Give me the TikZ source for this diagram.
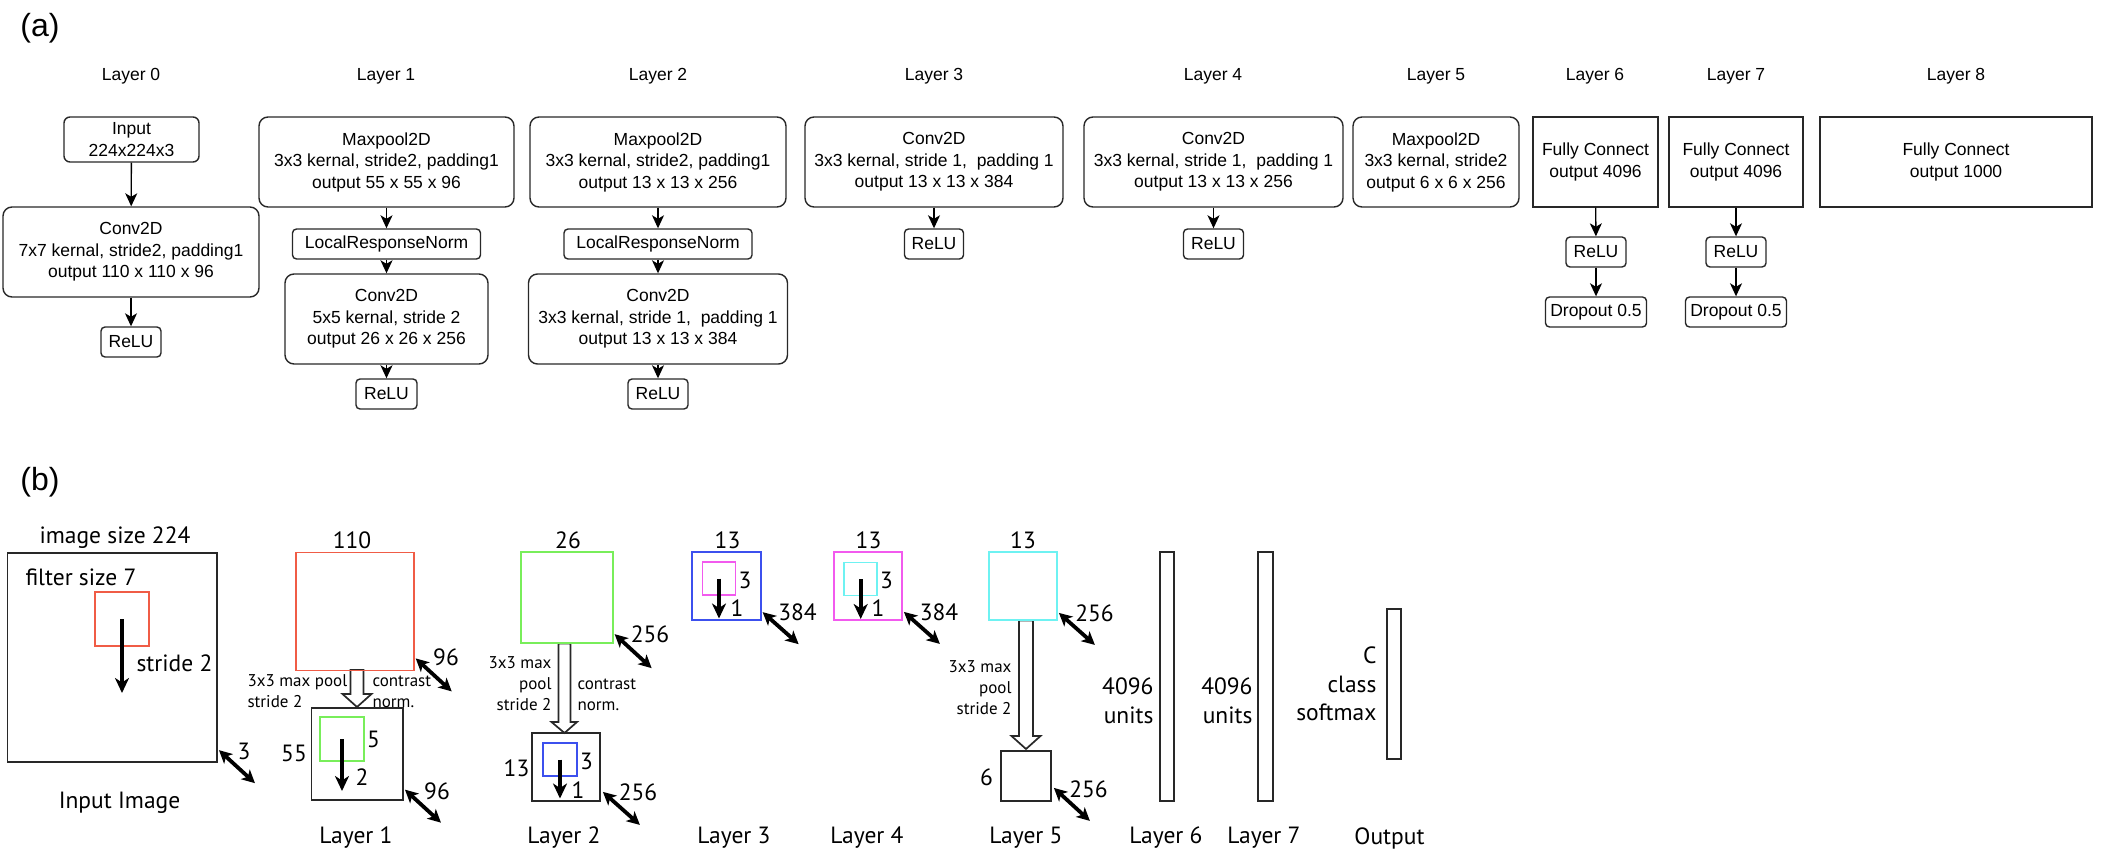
\documentclass[tikz,border=0pt]{standalone}
\usepackage{fontspec}
\setmainfont{Liberation Sans}
\newfontfamily\myriad{PT Sans}
\usetikzlibrary{arrows.meta}

\definecolor{mapred}{RGB}{240,92,70}
\definecolor{mapgreen}{RGB}{120,238,90}
\definecolor{mapblue}{RGB}{60,80,238}
\definecolor{mapmag}{RGB}{242,90,238}
\definecolor{mapcyan}{RGB}{110,242,242}
\definecolor{edge}{RGB}{40,40,40}

\tikzset{
  atext/.style={font=\fontsize{17.5}{21.5}\selectfont},
  btext/.style={font=\myriad\fontsize{23.5}{28.5}\selectfont},
  bsmall/.style={font=\myriad\fontsize{17}{21}\selectfont},
  bigbox/.style={atext, draw=edge, line width=1.4, rounded corners=9, minimum height=90, inner sep=0, align=center},
  fcbox/.style={atext, draw=edge, line width=1.4, minimum height=90, inner sep=0, align=center},
  tinybox/.style={atext, draw=edge, line width=1.4, rounded corners=4, minimum height=30, inner sep=0},
  flow/.style={-{Stealth[length=13,width=12,inset=3.5]}, line width=1.3},
  sq/.style={draw, line width=1.8, inner sep=0, minimum size=#1},
  bar/.style={draw=edge, line width=1.8, inner sep=0},
  thk/.style={-{Stealth[length=15,width=14,inset=4.5]}, line width=4},
  dbl/.style={{Stealth[length=13,width=13,inset=3.5]}-{Stealth[length=13,width=13,inset=3.5]}, line width=3.8},
  blk/.style={draw=edge, fill=white, line width=1.7, line join=miter}
}

\begin{document}
\begin{tikzpicture}[x=1pt, y=-1pt]
  \useasboundingbox (0,0) rectangle (2102,858);

  % (a) layer table
  \node[font=\fontsize{32}{36}\selectfont] (taga) at (40,28) {(a)};

  \node[atext] (lab0) at (131,76) {Layer 0};
  \node[atext] (lab1) at (386,76) {Layer 1};
  \node[atext] (lab2) at (658,76) {Layer 2};
  \node[atext] (lab3) at (934,76) {Layer 3};
  \node[atext] (lab4) at (1213,76) {Layer 4};
  \node[atext] (lab5) at (1436,76) {Layer 5};
  \node[atext] (lab6) at (1595,76) {Layer 6};
  \node[atext] (lab7) at (1736,76) {Layer 7};
  \node[atext] (lab8) at (1956,76) {Layer 8};

  \node[bigbox, minimum width=135, minimum height=45, rounded corners=6] (in0) at (131.5,139.5) {Input\\224x224x3};
  \node[bigbox, minimum width=256] (conv0) at (131,252) {Conv2D\\7x7 kernal, stride2, padding1\\output 110 x 110 x 96};
  \node[tinybox, minimum width=60] (relu0) at (131,342) {ReLU};
  \draw[flow] (in0) -- (conv0);
  \draw[flow] (conv0) -- (relu0);

  \node[bigbox, minimum width=255] (pool1) at (386.5,162) {Maxpool2D\\3x3 kernal, stride2, padding1\\output 55 x 55 x 96};
  \node[tinybox, minimum width=188] (lrn1) at (386.5,244) {LocalResponseNorm};
  \node[bigbox, minimum width=203] (conv1) at (386.5,319) {Conv2D\\5x5 kernal, stride 2\\output 26 x 26 x 256};
  \node[tinybox, minimum width=61] (relu1) at (386.5,394) {ReLU};
  \draw[flow] (pool1) -- (lrn1);
  \draw[flow] (lrn1) -- (conv1);
  \draw[flow] (conv1) -- (relu1);

  \node[bigbox, minimum width=256] (pool2) at (658,162) {Maxpool2D\\3x3 kernal, stride2, padding1\\output 13 x 13 x 256};
  \node[tinybox, minimum width=188] (lrn2) at (658,244) {LocalResponseNorm};
  \node[bigbox, minimum width=259] (conv2) at (658,319) {Conv2D\\3x3 kernal, stride 1,\ \ padding 1\\output 13 x 13 x 384};
  \node[tinybox, minimum width=60] (relu2) at (658,394) {ReLU};
  \draw[flow] (pool2) -- (lrn2);
  \draw[flow] (lrn2) -- (conv2);
  \draw[flow] (conv2) -- (relu2);

  \node[bigbox, minimum width=258] (conv3) at (934,162) {Conv2D\\3x3 kernal, stride 1,\ \ padding 1\\output 13 x 13 x 384};
  \node[tinybox, minimum width=59] (relu3) at (934,244) {ReLU};
  \draw[flow] (conv3) -- (relu3);

  \node[bigbox, minimum width=259] (conv4) at (1213.5,162) {Conv2D\\3x3 kernal, stride 1,\ \ padding 1\\output 13 x 13 x 256};
  \node[tinybox, minimum width=60] (relu4) at (1213.5,244) {ReLU};
  \draw[flow] (conv4) -- (relu4);

  \node[bigbox, minimum width=166] (pool5) at (1436,162) {Maxpool2D\\3x3 kernal, stride2\\output 6 x 6 x 256};

  \node[fcbox, minimum width=125] (fc6) at (1595.5,162) {Fully Connect\\output 4096};
  \node[tinybox, minimum width=60] (relu6) at (1596,252) {ReLU};
  \node[tinybox, minimum width=101] (drop6) at (1596,312) {Dropout 0.5};
  \draw[flow] (fc6) -- (relu6);
  \draw[flow] (relu6) -- (drop6);

  \node[fcbox, minimum width=134] (fc7) at (1736,162) {Fully Connect\\output 4096};
  \node[tinybox, minimum width=60] (relu7) at (1736,252) {ReLU};
  \node[tinybox, minimum width=101] (drop7) at (1736,312) {Dropout 0.5};
  \draw[flow] (fc7) -- (relu7);
  \draw[flow] (relu7) -- (drop7);

  \node[fcbox, minimum width=272] (fc8) at (1956,162) {Fully Connect\\output 1000};

  % (b) feature maps
  \node[font=\fontsize{32}{36}\selectfont] (tagb) at (40,482) {(b)};

  % input image
  \node[sq=209.5, draw=edge] (img) at (112.3,657.5) {};
  \node[sq=54, draw=mapred] (f0) at (122,619) {};
  \draw[thk] (f0.center) -- ++(0,74);
  \draw[dbl] ([shift={(1,-13)}]img.south east) -- ++(36,33);
  \node[btext] at (115,538) {image size 224};
  \node[btext, anchor=west] at (22,577) {filter size 7};
  \node[btext, anchor=west] at (133,663) {stride 2};
  \node[btext] at (244,751) {3};
  \node[btext] at (119.5,803) {Input Image};

  % layer 1
  \draw[blk] (357,670) -- ++(-6.5,0) -- ++(0,24) -- ++(-8,0) -- (357,707) -- ++(14.5,-13) -- ++(-8,0) -- ++(0,-24) -- cycle;
  \node[sq=118, draw=mapred] (m1) at (354.8,611.5) {};
  \node[sq=91.5, draw=edge] (p1) at (357.3,754) {};
  \node[sq=44, draw=mapgreen] (f1) at (342,739) {};
  \draw[thk] (f1.center) -- ++(0,52);
  \draw[dbl] ([shift={(1,-13)}]m1.south east) -- ++(36,33);
  \draw[dbl] ([shift={(1,-11)}]p1.south east) -- ++(36,33);
  \node[btext] at (352,540) {110};
  \node[bsmall, anchor=west, align=left] at (244,691.5) {3x3 max pool\\stride 2};
  \node[bsmall, anchor=west, align=left] at (369,691.5) {contrast\\norm.};
  \node[btext] at (446,657) {96};
  \node[btext] at (294,753) {55};
  \node[btext] at (373.5,739) {5};
  \node[btext] at (362,777) {2};
  \node[btext] at (437,791) {96};
  \node[btext] at (356,838) {Layer 1};

  % layer 2
  \draw[blk] (564.5,643.5) -- ++(-6,0) -- ++(0,78.5) -- ++(-7,0) -- (564.5,733) -- ++(12.5,-11) -- ++(-6.5,0) -- ++(0,-78.5) -- cycle;
  \node[sq=91.5, draw=mapgreen] (m2) at (567,597.5) {};
  \node[sq=68, draw=edge] (p2) at (566,767) {};
  \node[sq=33.5, draw=mapblue] (f2) at (560,759.5) {};
  \draw[thk] (f2.center) -- ++(0,39);
  \draw[dbl] ([shift={(1,-10)}]m2.south east) -- ++(37,34);
  \draw[dbl] ([shift={(2,-10)}]p2.south east) -- ++(37,33);
  \node[btext] at (568,540) {26};
  \node[bsmall, anchor=east, align=right] at (555,683.5) {3x3 max\\pool\\stride 2};
  \node[bsmall, anchor=west, align=left] at (574,694.5) {contrast\\norm.};
  \node[btext] at (650,634) {256};
  \node[btext] at (516.5,768) {13};
  \node[btext] at (586.5,761) {3};
  \node[btext] at (578,790) {1};
  \node[btext] at (638,792) {256};
  \node[btext] at (564,838) {Layer 2};

  % layer 3
  \node[sq=68.5, draw=mapblue] (m3) at (726.5,586) {};
  \node[sq=33, draw=mapmag] (f3) at (719,578.5) {};
  \draw[thk] (f3.center) -- ++(0,40);
  \draw[dbl] ([shift={(1,-9)}]m3.south east) -- ++(36,32);
  \node[btext] at (727.5,540) {13};
  \node[btext] at (745,580) {3};
  \node[btext] at (737,608) {1};
  \node[btext] at (797.5,612) {384};
  \node[btext] at (734,838) {Layer 3};

  % layer 4
  \node[sq=68, draw=mapmag] (m4) at (868,586) {};
  \node[sq=33, draw=mapcyan] (f4) at (860.7,579) {};
  \draw[thk] (f4.center) -- ++(0,40);
  \draw[dbl] ([shift={(1,-9)}]m4.south east) -- ++(36,32);
  \node[btext] at (868.5,540) {13};
  \node[btext] at (886.5,580) {3};
  \node[btext] at (878,608) {1};
  \node[btext] at (939,612) {384};
  \node[btext] at (867,838) {Layer 4};

  % layer 5
  \draw[blk] (1026,620.5) -- ++(-7,0) -- ++(0,115.5) -- ++(-7.5,0) -- (1026,749) -- ++(14.5,-13) -- ++(-7.5,0) -- ++(0,-115.5) -- cycle;
  \node[sq=68, draw=mapcyan] (m5) at (1023,586) {};
  \node[sq=50, draw=edge] (p5) at (1026,776) {};
  \draw[dbl] ([shift={(1,-8)}]m5.south east) -- ++(36,32);
  \draw[dbl] ([shift={(2,-14)}]p5.south east) -- ++(36,33);
  \node[btext] at (1023,540) {13};
  \node[bsmall, anchor=east, align=right] at (1015,688) {3x3 max\\pool\\stride 2};
  \node[btext] at (986.5,777) {6};
  \node[btext] at (1094.5,613) {256};
  \node[btext] at (1088.5,789) {256};
  \node[btext] at (1026,838) {Layer 5};

  % dense layers
  \node[bar, minimum width=14, minimum height=249] (d6) at (1167,676.5) {};
  \node[btext, anchor=east, align=right] at (1157,701) {4096\\units};
  \node[btext] at (1166,838) {Layer 6};

  \node[bar, minimum width=15, minimum height=249] (d7) at (1265.5,676.5) {};
  \node[btext, anchor=east, align=right] at (1256,701) {4096\\units};
  \node[btext] at (1264,838) {Layer 7};

  \node[bar, minimum width=14, minimum height=150] (d8) at (1394,684) {};
  \node[btext, anchor=east, align=right] at (1380,684) {C\\class\\softmax};
  \node[btext] at (1389.5,838) {Output};
\end{tikzpicture}
\end{document}
